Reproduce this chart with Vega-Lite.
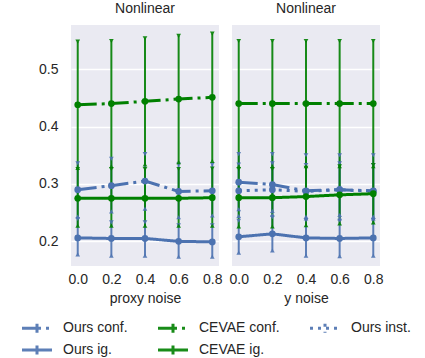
{
  "$schema": "https://vega.github.io/schema/vega-lite/v6.json",
  "padding": {"left": 20, "top": 2, "right": 5, "bottom": 2},
  "config": {
    "view": {"fill": "#eaeaf2", "stroke": null},
    "font": "Liberation Sans",
    "axis": {"grid": true, "gridColor": "#ffffff", "gridWidth": 1.3, "domain": false, "ticks": false, "labelFont": "Liberation Sans", "labelFontSize": 14, "labelColor": "#262626", "titleFont": "Liberation Sans", "titleFontSize": 14, "titleFontWeight": "normal", "titleColor": "#262626"},
    "axisX": {"grid": false},
    "title": {"font": "Liberation Sans", "fontSize": 14, "fontWeight": "normal", "color": "#262626", "offset": 9},
    "legend": {"labelFont": "Liberation Sans", "labelFontSize": 14, "labelColor": "#262626"},
    "concat": {"spacing": 5}
  },
  "data": {"values": [
    {"panel": "proxy", "series": "Ours conf.", "x": 0.0, "y": 0.290, "lo": 0.243, "hi": 0.336},
    {"panel": "proxy", "series": "Ours conf.", "x": 0.2, "y": 0.297, "lo": 0.252, "hi": 0.344},
    {"panel": "proxy", "series": "Ours conf.", "x": 0.4, "y": 0.305, "lo": 0.257, "hi": 0.352},
    {"panel": "proxy", "series": "Ours conf.", "x": 0.6, "y": 0.287, "lo": 0.242, "hi": 0.334},
    {"panel": "proxy", "series": "Ours conf.", "x": 0.8, "y": 0.288, "lo": 0.245, "hi": 0.334},
    {"panel": "proxy", "series": "Ours ig.", "x": 0.0, "y": 0.206, "lo": 0.177, "hi": 0.239},
    {"panel": "proxy", "series": "Ours ig.", "x": 0.2, "y": 0.205, "lo": 0.175, "hi": 0.233},
    {"panel": "proxy", "series": "Ours ig.", "x": 0.4, "y": 0.205, "lo": 0.175, "hi": 0.233},
    {"panel": "proxy", "series": "Ours ig.", "x": 0.6, "y": 0.200, "lo": 0.173, "hi": 0.228},
    {"panel": "proxy", "series": "Ours ig.", "x": 0.8, "y": 0.199, "lo": 0.173, "hi": 0.228},
    {"panel": "proxy", "series": "CEVAE conf.", "x": 0.0, "y": 0.438, "lo": 0.328, "hi": 0.548},
    {"panel": "proxy", "series": "CEVAE conf.", "x": 0.2, "y": 0.440, "lo": 0.331, "hi": 0.549},
    {"panel": "proxy", "series": "CEVAE conf.", "x": 0.4, "y": 0.444, "lo": 0.334, "hi": 0.554},
    {"panel": "proxy", "series": "CEVAE conf.", "x": 0.6, "y": 0.448, "lo": 0.338, "hi": 0.558},
    {"panel": "proxy", "series": "CEVAE conf.", "x": 0.8, "y": 0.451, "lo": 0.340, "hi": 0.562},
    {"panel": "proxy", "series": "CEVAE ig.", "x": 0.0, "y": 0.275, "lo": 0.227, "hi": 0.326},
    {"panel": "proxy", "series": "CEVAE ig.", "x": 0.2, "y": 0.275, "lo": 0.227, "hi": 0.326},
    {"panel": "proxy", "series": "CEVAE ig.", "x": 0.4, "y": 0.275, "lo": 0.227, "hi": 0.326},
    {"panel": "proxy", "series": "CEVAE ig.", "x": 0.6, "y": 0.275, "lo": 0.227, "hi": 0.326},
    {"panel": "proxy", "series": "CEVAE ig.", "x": 0.8, "y": 0.276, "lo": 0.227, "hi": 0.327},
    {"panel": "ynoise", "series": "Ours conf.", "x": 0.0, "y": 0.303, "lo": 0.256, "hi": 0.352},
    {"panel": "ynoise", "series": "Ours conf.", "x": 0.2, "y": 0.299, "lo": 0.253, "hi": 0.352},
    {"panel": "ynoise", "series": "Ours conf.", "x": 0.4, "y": 0.288, "lo": 0.240, "hi": 0.350},
    {"panel": "ynoise", "series": "Ours conf.", "x": 0.6, "y": 0.290, "lo": 0.240, "hi": 0.350},
    {"panel": "ynoise", "series": "Ours conf.", "x": 0.8, "y": 0.288, "lo": 0.240, "hi": 0.350},
    {"panel": "ynoise", "series": "Ours inst.", "x": 0.0, "y": 0.288, "lo": 0.244, "hi": 0.334},
    {"panel": "ynoise", "series": "Ours inst.", "x": 0.2, "y": 0.290, "lo": 0.246, "hi": 0.336},
    {"panel": "ynoise", "series": "Ours inst.", "x": 0.4, "y": 0.287, "lo": 0.243, "hi": 0.333},
    {"panel": "ynoise", "series": "Ours inst.", "x": 0.6, "y": 0.290, "lo": 0.246, "hi": 0.336},
    {"panel": "ynoise", "series": "Ours inst.", "x": 0.8, "y": 0.287, "lo": 0.243, "hi": 0.333},
    {"panel": "ynoise", "series": "Ours ig.", "x": 0.0, "y": 0.208, "lo": 0.180, "hi": 0.236},
    {"panel": "ynoise", "series": "Ours ig.", "x": 0.2, "y": 0.213, "lo": 0.184, "hi": 0.242},
    {"panel": "ynoise", "series": "Ours ig.", "x": 0.4, "y": 0.206, "lo": 0.175, "hi": 0.237},
    {"panel": "ynoise", "series": "Ours ig.", "x": 0.6, "y": 0.205, "lo": 0.174, "hi": 0.236},
    {"panel": "ynoise", "series": "Ours ig.", "x": 0.8, "y": 0.206, "lo": 0.175, "hi": 0.237},
    {"panel": "ynoise", "series": "CEVAE conf.", "x": 0.0, "y": 0.440, "lo": 0.331, "hi": 0.549},
    {"panel": "ynoise", "series": "CEVAE conf.", "x": 0.2, "y": 0.440, "lo": 0.331, "hi": 0.549},
    {"panel": "ynoise", "series": "CEVAE conf.", "x": 0.4, "y": 0.440, "lo": 0.331, "hi": 0.549},
    {"panel": "ynoise", "series": "CEVAE conf.", "x": 0.6, "y": 0.440, "lo": 0.331, "hi": 0.549},
    {"panel": "ynoise", "series": "CEVAE conf.", "x": 0.8, "y": 0.440, "lo": 0.331, "hi": 0.549},
    {"panel": "ynoise", "series": "CEVAE ig.", "x": 0.0, "y": 0.276, "lo": 0.226, "hi": 0.326},
    {"panel": "ynoise", "series": "CEVAE ig.", "x": 0.2, "y": 0.276, "lo": 0.226, "hi": 0.326},
    {"panel": "ynoise", "series": "CEVAE ig.", "x": 0.4, "y": 0.278, "lo": 0.228, "hi": 0.328},
    {"panel": "ynoise", "series": "CEVAE ig.", "x": 0.6, "y": 0.281, "lo": 0.231, "hi": 0.331},
    {"panel": "ynoise", "series": "CEVAE ig.", "x": 0.8, "y": 0.283, "lo": 0.233, "hi": 0.333}
  ]},
  "resolve": {"scale": {"color": "shared", "strokeDash": "shared", "y": "shared"}, "legend": {"color": "shared", "strokeDash": "shared"}},
  "hconcat": [
    {
      "title": "Nonlinear",
      "width": 148, "height": 241,
      "transform": [{"filter": "datum.panel === 'proxy'"}],
      "encoding": {
        "x": {"field": "x", "type": "quantitative", "scale": {"domain": [-0.04, 0.84], "nice": false, "zero": false}, "axis": {"values": [0, 0.2, 0.4, 0.6, 0.8], "format": ".1f", "title": "proxy noise", "labelPadding": 6, "titlePadding": 5}},
        "color": {"field": "series", "type": "nominal", "scale": {"domain": ["Ours conf.", "CEVAE conf.", "Ours inst.", "Ours ig.", "CEVAE ig."], "range": ["#4c72b0", "#008000", "#4c72b0", "#4c72b0", "#008000"]}, "legend": {"title": null, "orient": "none", "legendX": -51, "legendY": 294, "direction": "horizontal", "columns": 3, "symbolType": "M-2,0H2M0,-0.6V0.6", "symbolStrokeWidth": 3, "symbolSize": 225, "symbolOffset": 8, "columnPadding": 24, "rowPadding": 0, "labelOffset": 17}}
      },
      "layer": [
        {"mark": {"type": "rule", "strokeWidth": 2, "opacity": 0.9}, "encoding": {"y": {"field": "lo", "type": "quantitative", "scale": {"domain": [0.157, 0.577], "nice": false, "zero": false}, "axis": {"values": [0.2, 0.3, 0.4, 0.5], "format": ".1f", "title": null, "labelPadding": 13}}, "y2": {"field": "hi"}}},
        {"mark": {"type": "point", "shape": "triangle-down", "filled": true, "size": 22, "opacity": 0.9}, "encoding": {"y": {"field": "hi", "type": "quantitative"}}},
        {"mark": {"type": "point", "shape": "triangle-up", "filled": true, "size": 22, "opacity": 0.9}, "encoding": {"y": {"field": "lo", "type": "quantitative"}}},
        {"mark": {"type": "line", "strokeWidth": 3, "strokeCap": "butt"}, "encoding": {"y": {"field": "y", "type": "quantitative"}, "strokeDash": {"field": "series", "type": "nominal", "scale": {"domain": ["Ours conf.", "CEVAE conf.", "Ours inst.", "Ours ig.", "CEVAE ig."], "range": [[19, 5, 3, 5], [19, 5, 3, 5], [3, 5], [1, 0], [1, 0]]}, "legend": {"title": null}}}},
        {"mark": {"type": "point", "shape": "circle", "filled": true, "size": 45, "opacity": 1}, "encoding": {"y": {"field": "y", "type": "quantitative"}}}
      ]
    },
    {
      "title": "Nonlinear",
      "width": 148, "height": 241,
      "transform": [{"filter": "datum.panel === 'ynoise'"}],
      "encoding": {
        "x": {"field": "x", "type": "quantitative", "scale": {"domain": [-0.04, 0.84], "nice": false, "zero": false}, "axis": {"values": [0, 0.2, 0.4, 0.6, 0.8], "format": ".1f", "title": "y noise", "labelPadding": 6, "titlePadding": 5}},
        "color": {"field": "series", "type": "nominal"}
      },
      "layer": [
        {"mark": {"type": "rule", "strokeWidth": 2, "opacity": 0.9}, "encoding": {"y": {"field": "lo", "type": "quantitative", "scale": {"domain": [0.157, 0.577], "nice": false, "zero": false}, "axis": {"values": [0.2, 0.3, 0.4, 0.5], "labels": false, "title": null}}, "y2": {"field": "hi"}}},
        {"mark": {"type": "point", "shape": "triangle-down", "filled": true, "size": 22, "opacity": 0.9}, "encoding": {"y": {"field": "hi", "type": "quantitative"}}},
        {"mark": {"type": "point", "shape": "triangle-up", "filled": true, "size": 22, "opacity": 0.9}, "encoding": {"y": {"field": "lo", "type": "quantitative"}}},
        {"mark": {"type": "line", "strokeWidth": 3, "strokeCap": "butt"}, "encoding": {"y": {"field": "y", "type": "quantitative"}, "strokeDash": {"field": "series", "type": "nominal"}}},
        {"mark": {"type": "point", "shape": "circle", "filled": true, "size": 45, "opacity": 1}, "encoding": {"y": {"field": "y", "type": "quantitative"}}}
      ]
    }
  ]
}
